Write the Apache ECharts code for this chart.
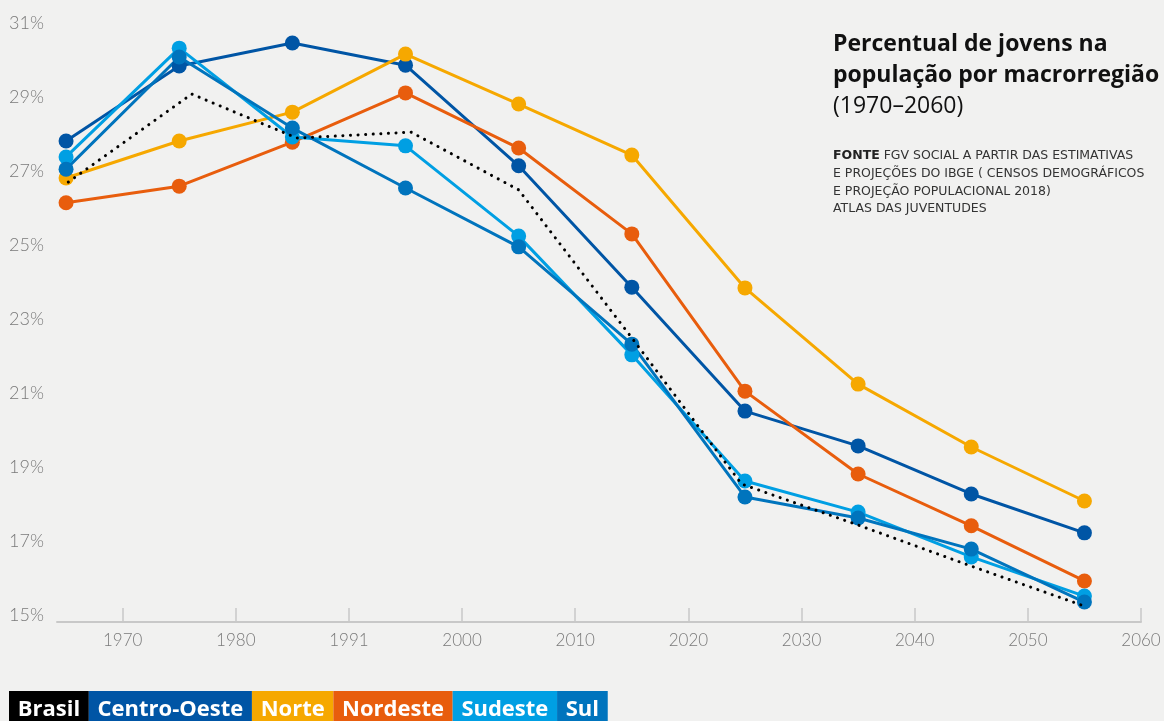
<!DOCTYPE html>
<html>
<head>
<meta charset="utf-8">
<script src="https://cdn.jsdelivr.net/npm/echarts@6/dist/echarts.min.js"></script>
<style>
  html, body { margin: 0; padding: 0; background: #f1f1f0; }
  #chart { width: 1164px; height: 721px; }
</style>
</head>
<body>
<div id="chart"></div>
<script>
// dados (pontos no meio de cada década)
const years = [1965, 1975, 1985, 1995, 2005, 2015, 2025, 2035, 2045, 2055];
const brasilYears = [1965.2, 1976.1, 1985.4, 1995.5, 2005, 2015, 2024.7, 2035, 2045, 2055];

const brasil      = [26.70, 29.08, 27.89, 28.05, 26.49, 22.49, 18.54, 17.43, 16.32, 15.24];
const centroOeste = [27.81, 29.84, 30.46, 29.86, 27.14, 23.86, 20.51, 19.57, 18.27, 17.22];
const norte       = [26.81, 27.81, 28.59, 30.16, 28.81, 27.43, 23.84, 21.24, 19.54, 18.08];
const nordeste    = [26.14, 26.59, 27.78, 29.11, 27.62, 25.30, 21.05, 18.81, 17.41, 15.92];
const sudeste     = [27.38, 30.32, 27.92, 27.68, 25.24, 22.03, 18.62, 17.78, 16.57, 15.51];
const sul         = [27.05, 30.08, 28.16, 26.54, 24.95, 22.32, 18.19, 17.62, 16.78, 15.35];

const xTickValues = [1970, 1980, 1990, 2000, 2010, 2020, 2030, 2040, 2050, 2060];
const xTickLabels = ['1970', '1980', '1991', '2000', '2010', '2020', '2030', '2040', '2050', '2060'];
const yTickValues = [15, 17, 19, 21, 23, 25, 27, 29, 31];

const colors = {
  'Brasil': '#000000',
  'Centro-Oeste': '#0055a5',
  'Norte': '#f6a800',
  'Nordeste': '#e85d0d',
  'Sudeste': '#009fe3',
  'Sul': '#0074bd'
};

const pairs = (xs, ys) => ys.map((v, i) => [xs[i], v]);

const regionSeries = (name, data) => ({
  name: name,
  type: 'line',
  data: pairs(years, data),
  symbol: 'circle',
  symbolSize: 15,
  lineStyle: { width: 3, color: colors[name] },
  itemStyle: { color: colors[name] },
  emphasis: { disabled: true }
});

const chart = echarts.init(document.getElementById('chart'));

const option = {
  backgroundColor: '#f1f1f0',
  animation: false,
  title: [
    {
      left: 833,
      top: 29,
      padding: 0,
      text: '{b|Percentual de jovens na}\n{b|população por macrorregião}\n{r|(1970–2060)}',
      textStyle: {
        rich: {
          b: { fontFamily: 'Open Sans', fontWeight: 'bold', fontSize: 23, color: '#111', lineHeight: 31 },
          r: { fontFamily: 'Open Sans', fontWeight: 'normal', fontSize: 23, color: '#111', lineHeight: 31 }
        }
      }
    },
    {
      left: 833,
      top: 147,
      padding: 0,
      text: '{b|FONTE} FGV SOCIAL A PARTIR DAS ESTIMATIVAS\nE PROJEÇÕES DO IBGE ( CENSOS DEMOGRÁFICOS\nE PROJEÇÃO POPULACIONAL 2018)\nATLAS DAS JUVENTUDES',
      textStyle: {
        fontFamily: 'DejaVu Sans',
        fontWeight: 'normal',
        fontSize: 12.5,
        color: '#333',
        lineHeight: 17.7,
        rich: {
          b: { fontFamily: 'DejaVu Sans', fontWeight: 'bold', fontSize: 12.5, color: '#222', lineHeight: 17.7 }
        }
      }
    }
  ],
  legend: {
    left: 4,
    top: 691,
    itemGap: -5,
    itemWidth: 0,
    itemHeight: 0,
    icon: 'rect',
    selectedMode: false,
    padding: 0,
    data: Object.keys(colors).map(name => ({
      name: name,
      textStyle: {
        color: '#fff',
        backgroundColor: colors[name],
        fontFamily: 'Open Sans',
        fontWeight: 'bold',
        fontSize: 22,
        lineHeight: 26,
        padding: [3, 8.7, 8, 8.7]
      }
    }))
  },
  grid: { left: 57, right: 23, top: 23, bottom: 99 },
  xAxis: {
    type: 'value',
    min: 1964.2,
    max: 2060,
    axisLine: { show: true, lineStyle: { color: '#c8c8c8', width: 2 } },
    axisTick: {
      show: true,
      inside: true,
      length: 14,
      customValues: xTickValues,
      lineStyle: { color: '#c8c8c8', width: 1.5 }
    },
    axisLabel: {
      customValues: xTickValues,
      formatter: v => xTickLabels[xTickValues.indexOf(v)],
      color: '#7a7a7a',
      fontFamily: 'Lato',
      fontWeight: 300,
      fontSize: 17,
      margin: 10
    },
    splitLine: { show: false }
  },
  yAxis: {
    type: 'value',
    min: 14.81,
    max: 31,
    axisLine: { show: false },
    axisTick: { show: false },
    axisLabel: {
      customValues: yTickValues,
      formatter: v => v + '%',
      color: '#7a7a7a',
      fontFamily: 'Lato',
      fontWeight: 300,
      fontSize: 18,
      margin: 13
    },
    splitLine: { show: false }
  },
  series: [
    regionSeries('Centro-Oeste', centroOeste),
    regionSeries('Norte', norte),
    regionSeries('Nordeste', nordeste),
    regionSeries('Sudeste', sudeste),
    regionSeries('Sul', sul),
    {
      name: 'Brasil',
      type: 'line',
      data: pairs(brasilYears, brasil),
      symbol: 'none',
      z: 5,
      itemStyle: { color: '#000' },
      lineStyle: { width: 3, color: '#000', type: [0.1, 7.5], cap: 'round' },
      emphasis: { disabled: true }
    }
  ]
};

chart.setOption(option);
</script>
</body>
</html>
